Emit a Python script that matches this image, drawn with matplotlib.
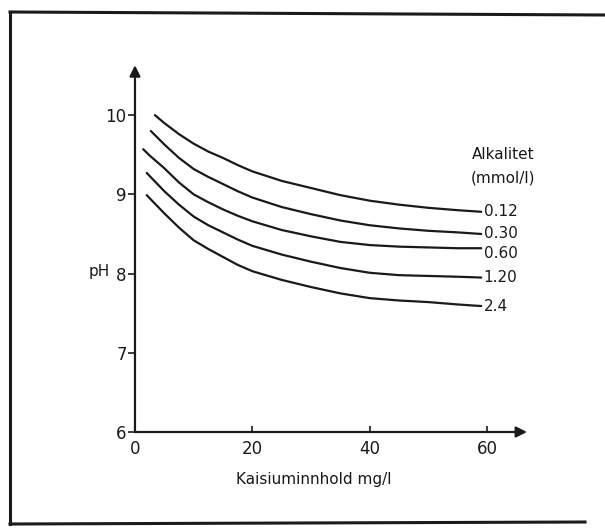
#!/usr/bin/env python3
"""pH as a function of calcium content for five alkalinity levels."""
import matplotlib

matplotlib.use("Agg")
import matplotlib.pyplot as plt  # noqa: E402
from matplotlib.lines import Line2D  # noqa: E402

INK = "#1a1a1a"

# curves: (calcium mg/l, pH), one list per alkalinity
ALK_LABELS = ["0.12", "0.30", "0.60", "1.20", "2.4"]
CA_GRID = [5, 7.5, 10, 12.5, 15, 17.5, 20, 25, 30, 35, 40, 45, 50, 55, 59]
CA_012 = [3.4] + CA_GRID
PH_012 = [10.0, 9.90, 9.76, 9.64, 9.54, 9.46, 9.37, 9.29, 9.17, 9.08,
          8.99, 8.92, 8.87, 8.83, 8.80, 8.78]
CA_030 = [2.7] + CA_GRID
PH_030 = [9.80, 9.63, 9.46, 9.32, 9.22, 9.13, 9.04, 8.96, 8.84, 8.75,
          8.67, 8.61, 8.57, 8.54, 8.52, 8.50]
CA_060 = [1.4, 2.5] + CA_GRID
PH_060 = [9.57, 9.49, 9.33, 9.15, 9.00, 8.90, 8.81, 8.73, 8.66, 8.55,
          8.47, 8.40, 8.36, 8.34, 8.33, 8.32, 8.32]
CA_120 = [2.0] + CA_GRID
PH_120 = [9.27, 9.04, 8.87, 8.72, 8.61, 8.52, 8.43, 8.35, 8.24, 8.15,
          8.07, 8.01, 7.98, 7.97, 7.96, 7.95]
CA_240 = [2.0] + CA_GRID
PH_240 = [8.99, 8.76, 8.58, 8.42, 8.31, 8.21, 8.11, 8.03, 7.92, 7.83,
          7.75, 7.69, 7.66, 7.64, 7.61, 7.59]

X_TICKS = [0, 20, 40, 60]
Y_TICKS = [6, 7, 8, 9, 10]

CURVES = [(CA_012, PH_012), (CA_030, PH_030), (CA_060, PH_060),
          (CA_120, PH_120), (CA_240, PH_240)]
LABEL_NUDGE = {"0.60": -0.07}   # label sits a little under its line end

fig = plt.figure(figsize=(6.05, 5.3), dpi=100, facecolor="white")
ax = fig.add_axes([0.2231, 0.1849, 0.648, 0.692])
ax.set_xlim(0, 66.8)
ax.set_ylim(6, 10.63)
for s in ax.spines.values():
    s.set_visible(False)

# axes drawn as arrows
ax.annotate("", xy=(0, 1), xytext=(0, 0), xycoords="axes fraction",
            arrowprops=dict(arrowstyle="-|>", color=INK, lw=1.6,
                            mutation_scale=16, shrinkA=0, shrinkB=0))
ax.annotate("", xy=(1, 0), xytext=(0, 0), xycoords="axes fraction",
            arrowprops=dict(arrowstyle="-|>", color=INK, lw=1.6,
                            mutation_scale=16, shrinkA=0, shrinkB=0))

ax.set_xticks(X_TICKS)
ax.set_yticks(Y_TICKS)
ax.set_xticklabels([str(v) for v in X_TICKS])
ax.set_yticklabels([str(v) for v in Y_TICKS])
ax.tick_params(axis="x", direction="in", length=4, width=1.2, color=INK,
               labelsize=12, labelcolor=INK, pad=6)
ax.tick_params(axis="y", direction="out", length=5, width=1.2, color=INK,
               labelsize=12, labelcolor=INK, pad=1)

for (ca, ph), lab in zip(CURVES, ALK_LABELS):
    ax.plot(ca, ph, color=INK, lw=1.6, solid_capstyle="round",
            solid_joinstyle="round")
    ax.text(ca[-1] + 0.4, ph[-1] + LABEL_NUDGE.get(lab, 0.0), lab,
            ha="left", va="center", fontsize=11, color=INK, clip_on=False)

ax.text(62.7, 9.50, "Alkalitet", ha="center", va="center",
        fontsize=11, color=INK, clip_on=False)
ax.text(62.7, 9.21, "(mmol/l)", ha="center", va="center",
        fontsize=11, color=INK, clip_on=False)
ax.text(-4.3, 8.02, "pH", ha="right", va="center",
        fontsize=11, color=INK, clip_on=False)
ax.text(30.5, -0.13, "Kaisiuminnhold mg/l", transform=ax.get_xaxis_transform(),
        ha="center", va="center", fontsize=11, color=INK, clip_on=False)

# the scanned page frame: top, left and bottom edges
W, H = 605.0, 530.0
frame = [((10, 12), (605, 15)), ((10, 12), (10, 524)), ((10, 524), (585, 522))]
for (x0, y0), (x1, y1) in frame:
    fig.add_artist(Line2D([x0 / W, x1 / W], [1 - y0 / H, 1 - y1 / H],
                          color=INK, lw=2.2, transform=fig.transFigure))

fig.savefig("out.png", dpi=100, facecolor="white")
